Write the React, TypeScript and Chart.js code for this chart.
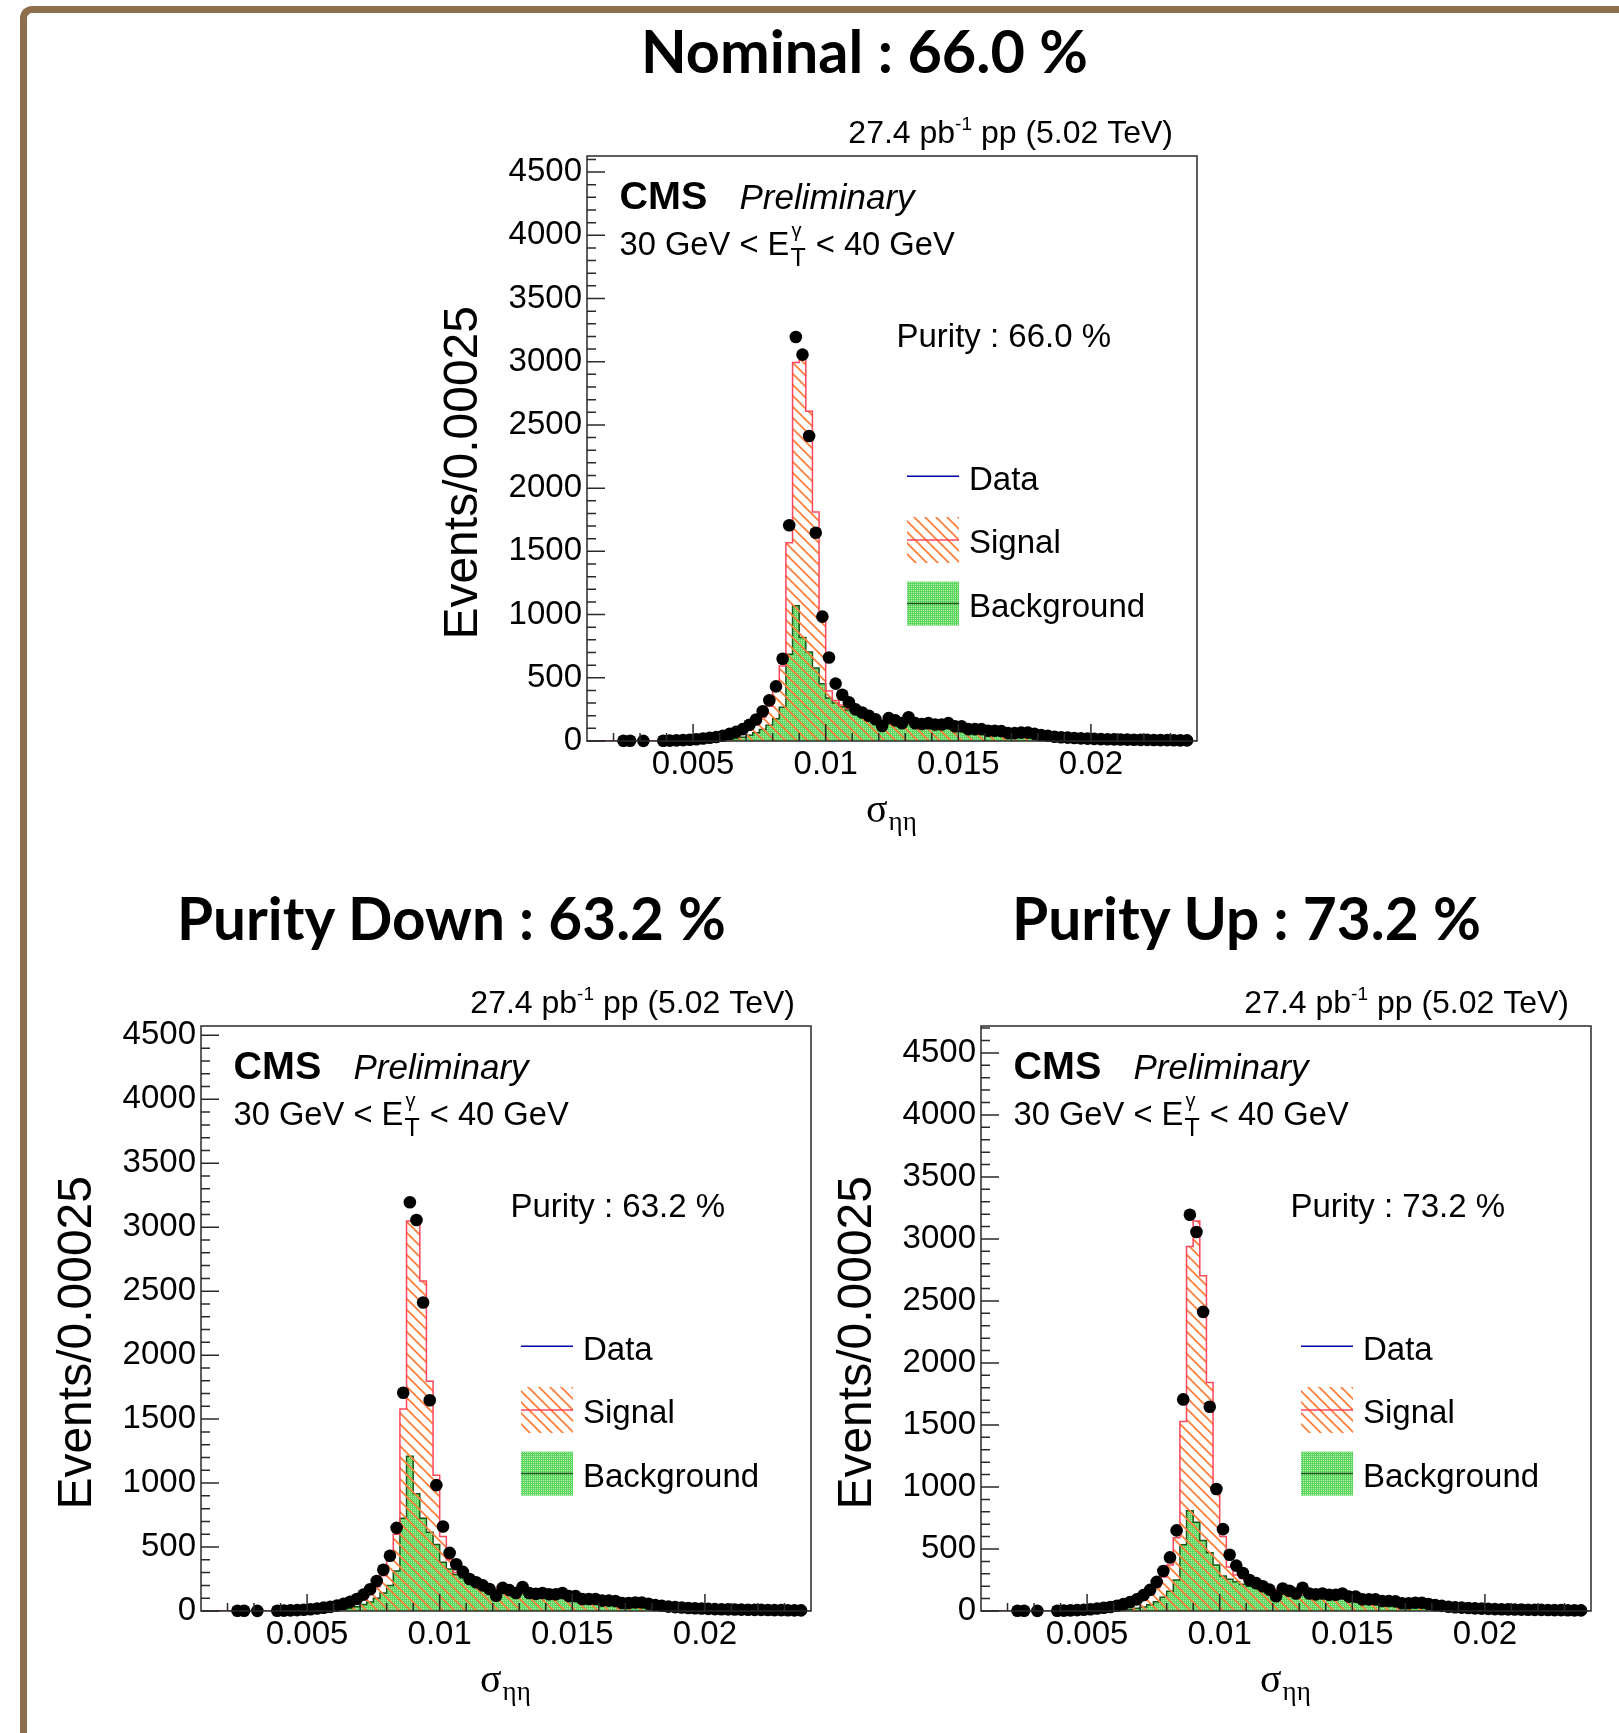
import React, { useEffect, useRef } from "react";
import { Chart, registerables } from "chart.js";

Chart.register(...registerables);

// ---------------- data ----------------
const BIN_START = 0.001;
const BIN_WIDTH = 0.00025;
const X_MIN = 0.001;
const X_MAX = 0.024;
const X_TICKS = [0.005, 0.01, 0.015, 0.02];
const X_TICK_LABELS = ["0.005", "0.01", "0.015", "0.02"];
const Y_TICKS = [0, 500, 1000, 1500, 2000, 2500, 3000, 3500, 4000, 4500];
const Y_TICK_LABELS = ["0", "500", "1000", "1500", "2000", "2500", "3000", "3500", "4000", "4500"];

const PANEL_TITLES = ["Nominal : 66.0 %", "Purity Down : 63.2 %", "Purity Up : 73.2 %"];
const PURITY_LABELS = ["Purity : 66.0 %", "Purity : 63.2 %", "Purity : 73.2 %"];
const LEGEND_LABELS = ["Data", "Signal", "Background"];

// data counts per bin (92 bins of 0.00025 from 0.001), null = empty bin
const DATA_COUNTS = [
  null, null, null, null, null,
  2, 2, null, 1, null,
  null, 2, 3, 5, 7,
  10, 14, 20, 26, 32,
  42, 56, 72, 94, 128,
  170, 235, 322, 432, 650,
  1706, 3195, 3056, 2412, 1647,
  984, 660, 454, 366, 306,
  250, 225, 200, 172, 119,
  181, 163, 141, 188, 141,
  134, 141, 131, 131, 141,
  116, 116, 94, 94, 94,
  81, 81, 78, 62, 62,
  66, 66, 56, 47, 41,
  34, 30, 27, 24, 21,
  19, 17, 15, 14, 13,
  12, 11, 10, 9, 9,
  8, 7, 7, 6, 5,
  5, null,
];

const BKG_NOMINAL = [
  0, 0, 0, 0, 0, 0, 0, 0, 0, 0, 0, 0, 0, 0, 0,
  0, 0, 2, 4, 6,
  9, 14, 20, 30, 45,
  65, 90, 125, 175, 266,
  687, 1069, 819, 703, 578,
  453, 340, 300, 270, 245,
  222, 203, 188, 173, 160,
  150, 143, 137, 132, 129,
  126, 123, 119, 116, 113,
  109, 103, 97, 91, 86,
  81, 76, 71, 65, 59,
  53, 46, 36, 22, 0,
  0, 0, 0, 0, 0, 0, 0, 0, 0, 0, 0, 0, 0, 0, 0, 0, 0, 0, 0, 0, 0, 0,
];
const SIG_NOMINAL = [
  0, 0, 0, 0, 0, 0, 0, 0, 0, 0, 0, 0, 0, 0, 0,
  0, 0, 1, 2, 4,
  7, 11, 18, 28, 43,
  65, 100, 150, 235, 328,
  882, 1925, 2212, 1906, 1234,
  547, 55, 20, 15, 12,
  11, 10, 9, 8, 7,
  7, 6, 6, 5, 5,
  5, 4, 4, 4, 3,
  3, 3, 3, 2, 2,
  2, 2, 1, 1, 1,
  1, 1, 1, 0, 0,
  0, 0, 0, 0, 0, 0, 0, 0, 0, 0, 0, 0, 0, 0, 0, 0, 0, 0, 0, 0, 0, 0,
];

const BKG_DOWN = [
  0, 0, 0, 0, 0, 0, 0, 0, 0, 0, 0, 0, 0, 0, 0,
  0, 0, 2, 4, 6,
  10, 15, 22, 33, 50,
  70, 100, 140, 200, 312,
  726, 1210, 917, 726, 615,
  519, 382, 328, 285, 258,
  232, 212, 196, 180, 166,
  156, 148, 142, 137, 133,
  130, 127, 123, 120, 116,
  112, 106, 100, 94, 88,
  83, 78, 73, 67, 61,
  55, 47, 37, 23, 0,
  0, 0, 0, 0, 0, 0, 0, 0, 0, 0, 0, 0, 0, 0, 0, 0, 0, 0, 0, 0, 0, 0,
];
const SIG_DOWN = [
  0, 0, 0, 0, 0, 0, 0, 0, 0, 0, 0, 0, 0, 0, 0,
  0, 0, 1, 2, 4,
  6, 10, 16, 25, 38,
  60, 90, 135, 210, 288,
  854, 1838, 2131, 1854, 1181,
  542, 201, 72, 15, 12,
  11, 10, 9, 8, 7,
  7, 6, 6, 5, 5,
  5, 4, 4, 4, 3,
  3, 3, 3, 2, 2,
  2, 2, 1, 1, 1,
  1, 1, 1, 0, 0,
  0, 0, 0, 0, 0, 0, 0, 0, 0, 0, 0, 0, 0, 0, 0, 0, 0, 0, 0, 0, 0, 0,
];

const BKG_UP = [
  0, 0, 0, 0, 0, 0, 0, 0, 0, 0, 0, 0, 0, 0, 0,
  0, 0, 1, 3, 5,
  7, 10, 15, 22, 33,
  50, 75, 110, 160, 250,
  535, 808, 716, 568, 470,
  371, 283, 256, 235, 215,
  200, 188, 176, 164, 153,
  145, 139, 134, 129, 126,
  123, 120, 116, 113, 110,
  106, 100, 94, 88, 83,
  78, 73, 68, 62, 57,
  51, 44, 35, 21, 0,
  0, 0, 0, 0, 0, 0, 0, 0, 0, 0, 0, 0, 0, 0, 0, 0, 0, 0, 0, 0, 0, 0,
];
const SIG_UP = [
  0, 0, 0, 0, 0, 0, 0, 0, 0, 0, 0, 0, 0, 0, 0,
  0, 0, 2, 3, 5,
  9, 15, 23, 36, 55,
  80, 115, 165, 211, 341,
  993, 2132, 2428, 2136, 1373,
  624, 318, 99, 55, 47,
  38, 30, 25, 20, 18,
  15, 12, 10, 9, 8,
  7, 6, 6, 5, 5,
  5, 4, 4, 3, 3,
  3, 2, 2, 2, 1,
  1, 1, 1, 0, 0,
  0, 0, 0, 0, 0, 0, 0, 0, 0, 0, 0, 0, 0, 0, 0, 0, 0, 0, 0, 0, 0, 0,
];

const PANEL_BKG = [BKG_NOMINAL, BKG_DOWN, BKG_UP];
const PANEL_SIG = [SIG_NOMINAL, SIG_DOWN, SIG_UP];
const PANEL_YMAX = [4627, 4573, 4717];

// ---------------- layout ----------------
const FRAME_W = 610;
const FRAME_H = 585;
const PAD_L = 160;
const PAD_T = 60;
const PAD_R = 20;
const PAD_B = 110;
const CANVAS_W = PAD_L + FRAME_W + PAD_R;
const CANVAS_H = PAD_T + FRAME_H + PAD_B;
const FRAME_POS = [
  { left: 587, top: 156 },
  { left: 201, top: 1026 },
  { left: 981, top: 1026 },
];
const LUMI_RIGHT_INSET = [24, 16, 22];
const TITLE_POS = [
  { x: 641, y: 73, w: 447 },
  { x: 177, y: 940, w: 549 },
  { x: 1012, y: 940, w: 469 },
];

const FONT = '"Liberation Sans", Arial, Helvetica, sans-serif';
const SERIF = '"Liberation Serif", "DejaVu Serif", serif';
const Y_MINOR_STEP = 100;
const X_MINOR_STEP = 0.001;

function stepPoints(vals: number[]) {
  const pts = vals.map((v, k) => ({ x: BIN_START + k * BIN_WIDTH, y: v }));
  pts.push({ x: BIN_START + vals.length * BIN_WIDTH, y: vals[vals.length - 1] });
  return pts;
}

function dataPoints() {
  const out: { x: number; y: number }[] = [];
  DATA_COUNTS.forEach((v, k) => {
    if (v !== null) out.push({ x: BIN_START + (k + 0.5) * BIN_WIDTH, y: v as number });
  });
  return out;
}

function makeHatch(ctx: CanvasRenderingContext2D) {
  const s = 11;
  const c = document.createElement("canvas");
  c.width = s;
  c.height = s;
  const g = c.getContext("2d")!;
  g.strokeStyle = "rgb(255,125,55)";
  g.lineWidth = 1.7;
  for (const o of [-s, 0, s]) {
    g.beginPath();
    g.moveTo(o - 1, -1);
    g.lineTo(o + s + 1, s + 1);
    g.stroke();
  }
  return ctx.createPattern(c, "repeat")!;
}

function makeGreen(ctx: CanvasRenderingContext2D) {
  const c = document.createElement("canvas");
  c.width = 2;
  c.height = 2;
  const g = c.getContext("2d")!;
  g.fillStyle = "rgb(92,214,92)";
  g.fillRect(0, 0, 2, 2);
  g.fillStyle = "rgb(185,240,185)";
  g.fillRect(0, 0, 1, 1);
  return ctx.createPattern(c, "repeat")!;
}

function decorPlugin(idx: number, hatch: CanvasPattern, green: CanvasPattern) {
  return {
    id: "decor" + idx,
    afterDraw(chart: any) {
      const { ctx, chartArea: a, scales } = chart;
      const xs = scales.x;
      const ys = scales.y;
      ctx.save();
      // ticks
      ctx.strokeStyle = "#2a2a2a";
      ctx.lineWidth = 1.5;
      ctx.beginPath();
      for (let i = 0; i * Y_MINOR_STEP <= PANEL_YMAX[idx]; i++) {
        const v = i * Y_MINOR_STEP;
        const y = ys.getPixelForValue(v);
        const len = i % 5 === 0 ? 18 : 9;
        ctx.moveTo(a.left, y);
        ctx.lineTo(a.left + len, y);
      }
      for (let i = 2; i * X_MINOR_STEP < X_MAX - 1e-9; i++) {
        const x = xs.getPixelForValue(i * X_MINOR_STEP);
        const len = i % 5 === 0 ? 17 : 8;
        ctx.moveTo(x, a.bottom);
        ctx.lineTo(x, a.bottom - len);
      }
      ctx.stroke();
      ctx.strokeRect(a.left, a.top, a.right - a.left, a.bottom - a.top);

      ctx.fillStyle = "#000";
      ctx.textBaseline = "alphabetic";
      ctx.textAlign = "left";

      // luminosity label
      const p1 = "27.4 pb";
      const sup = "-1";
      const p2 = " pp (5.02 TeV)";
      ctx.font = `32px ${FONT}`;
      const w1 = ctx.measureText(p1).width;
      const w2 = ctx.measureText(p2).width;
      ctx.font = `19px ${FONT}`;
      const ws = ctx.measureText(sup).width;
      let x = a.right - LUMI_RIGHT_INSET[idx] - (w1 + ws + w2);
      const yb = a.top - 13;
      ctx.font = `32px ${FONT}`;
      ctx.fillText(p1, x, yb);
      x += w1;
      ctx.font = `19px ${FONT}`;
      ctx.fillText(sup, x, yb - 13);
      x += ws;
      ctx.font = `32px ${FONT}`;
      ctx.fillText(p2, x, yb);

      // CMS Preliminary
      ctx.font = `bold 39.5px ${FONT}`;
      ctx.fillText("CMS", a.left + 32.5, a.top + 52.6);
      ctx.font = `italic 35px ${FONT}`;
      ctx.fillText("Preliminary", a.left + 152.5, a.top + 53.3);

      // ET range
      ctx.font = `32.7px ${FONT}`;
      let ex = a.left + 32.5;
      const ey = a.top + 98.5;
      const s1 = "30 GeV < E";
      ctx.fillText(s1, ex, ey);
      ex += ctx.measureText(s1).width;
      ctx.font = `25px ${FONT}`;
      const wT = ctx.measureText("T").width;
      ctx.fillText("T", ex + 1, ey + 11);
      ctx.font = `20px ${FONT}`;
      const wg = ctx.measureText("γ").width;
      ctx.fillText("γ", ex + 2, ey - 18);
      ex += Math.max(wT, wg) + 2;
      ctx.font = `32.7px ${FONT}`;
      ctx.fillText(" < 40 GeV", ex, ey);

      // purity
      ctx.font = `33px ${FONT}`;
      ctx.fillText(PURITY_LABELS[idx], a.left + 309.5, a.top + 190.5);

      // legend
      const lx0 = a.left + 320;
      const lx1 = a.left + 372;
      const rows = [a.top + 320.3, a.top + 384, a.top + 447.6];
      // Data
      ctx.strokeStyle = "rgb(0,0,170)";
      ctx.lineWidth = 1.5;
      ctx.beginPath();
      ctx.moveTo(lx0, rows[0]);
      ctx.lineTo(lx1, rows[0]);
      ctx.stroke();
      // Signal
      ctx.fillStyle = hatch;
      ctx.fillRect(lx0, rows[1] - 23, lx1 - lx0, 46);
      ctx.strokeStyle = "rgb(255,70,90)";
      ctx.beginPath();
      ctx.moveTo(lx0, rows[1]);
      ctx.lineTo(lx1, rows[1]);
      ctx.stroke();
      // Background
      ctx.fillStyle = green;
      ctx.fillRect(lx0, rows[2] - 22, lx1 - lx0, 44);
      ctx.strokeStyle = "rgb(25,85,25)";
      ctx.beginPath();
      ctx.moveTo(lx0, rows[2]);
      ctx.lineTo(lx1, rows[2]);
      ctx.stroke();
      ctx.fillStyle = "#000";
      ctx.font = `33px ${FONT}`;
      LEGEND_LABELS.forEach((t, i) => ctx.fillText(t, a.left + 382, rows[i] + 13.3));

      // y title
      ctx.save();
      ctx.translate(a.left - 110, a.top + 150);
      ctx.rotate(-Math.PI / 2);
      ctx.textAlign = "right";
      ctx.font = `48px ${FONT}`;
      ctx.fillText("Events/0.00025", 0, 0);
      ctx.restore();

      // x title
      ctx.font = `40px ${SERIF}`;
      const sx = a.left + 279;
      const sy = a.bottom + 81;
      ctx.fillText("σ", sx, sy);
      const swd = ctx.measureText("σ").width;
      ctx.font = `27px ${SERIF}`;
      ctx.fillText("ηη", sx + swd + 1, sy + 8);

      ctx.restore();
    },
  };
}

function Panel({ idx }: { idx: number }) {
  const ref = useRef<HTMLCanvasElement>(null);
  useEffect(() => {
    const canvas = ref.current!;
    const ctx = canvas.getContext("2d")!;
    const hatch = makeHatch(ctx);
    const green = makeGreen(ctx);
    const bkg = PANEL_BKG[idx];
    const sig = PANEL_SIG[idx];
    const total = bkg.map((b, k) => b + sig[k]);
    const chart = new Chart(canvas, {
      type: "line",
      data: {
        datasets: [
          {
            label: "Data",
            data: dataPoints(),
            showLine: false,
            pointRadius: 6.3,
            pointBackgroundColor: "#000",
            pointBorderColor: "#000",
            pointBorderWidth: 0,
            order: 0,
            clip: false as any,
          },
          {
            label: "Signal",
            data: stepPoints(total),
            stepped: "before",
            fill: "origin",
            backgroundColor: hatch as any,
            borderColor: "rgb(255,70,90)",
            borderWidth: 1.5,
            pointRadius: 0,
            order: 1,
          },
          {
            label: "Background",
            data: stepPoints(bkg),
            stepped: "before",
            fill: "origin",
            backgroundColor: green as any,
            borderColor: "rgb(25,85,25)",
            borderWidth: 1.5,
            pointRadius: 0,
            order: 2,
          },
        ] as any,
      },
      options: {
        animation: false,
        responsive: false,
        devicePixelRatio: 1,
        layout: { padding: { top: PAD_T, right: PAD_R, left: 0, bottom: 0 } },
        plugins: {
          legend: { display: false },
          tooltip: { enabled: false },
          title: { display: false },
        },
        scales: {
          x: {
            type: "linear",
            min: X_MIN,
            max: X_MAX,
            grid: { display: false, drawTicks: false },
            border: { display: false },
            afterBuildTicks: (s: any) => {
              s.ticks = X_TICKS.map((v) => ({ value: v }));
            },
            afterFit: (s: any) => {
              s.height = PAD_B;
            },
            ticks: {
              autoSkip: false,
              maxRotation: 0,
              padding: 4,
              color: "#000",
              font: { family: FONT, size: 33 },
              callback: (_v: any, i: number) => X_TICK_LABELS[i],
            },
          },
          y: {
            type: "linear",
            min: 0,
            max: PANEL_YMAX[idx],
            grid: { display: false, drawTicks: false },
            border: { display: false },
            afterBuildTicks: (s: any) => {
              s.ticks = Y_TICKS.map((v) => ({ value: v }));
            },
            afterFit: (s: any) => {
              s.width = PAD_L;
            },
            ticks: {
              autoSkip: false,
              padding: 5,
              color: "#000",
              font: { family: FONT, size: 33 },
              callback: (_v: any, i: number) => Y_TICK_LABELS[i],
            },
          },
        },
      } as any,
      plugins: [decorPlugin(idx, hatch, green)],
    });
    return () => chart.destroy();
  }, [idx]);
  const pos = FRAME_POS[idx];
  return (
    <canvas
      ref={ref}
      width={CANVAS_W}
      height={CANVAS_H}
      style={{
        position: "absolute",
        left: pos.left - PAD_L,
        top: pos.top - PAD_T,
        width: CANVAS_W,
        height: CANVAS_H,
      }}
    />
  );
}

export default function App() {
  return (
    <div
      style={{
        position: "absolute",
        left: 0,
        top: 0,
        width: 1619,
        height: 1733,
        background: "#fff",
        overflow: "hidden",
      }}
    >
      <div
        style={{
          position: "absolute",
          left: 20,
          top: 6,
          width: 1700,
          height: 1800,
          borderTop: "7px solid #8d6e4d",
          borderLeft: "7px solid #8d6e4d",
          borderTopLeftRadius: 12,
        }}
      />
      <svg
        width={1619}
        height={1733}
        style={{ position: "absolute", left: 0, top: 0 }}
      >
        {PANEL_TITLES.map((t, i) => (
          <text
            key={i}
            x={TITLE_POS[i].x}
            y={TITLE_POS[i].y}
            textLength={TITLE_POS[i].w}
            lengthAdjust="spacingAndGlyphs"
            style={{ fontFamily: "Lato, 'Open Sans', sans-serif", fontWeight: 700, fontSize: 60 }}
            fill="#000"
          >
            {t}
          </text>
        ))}
      </svg>
      {FRAME_POS.map((_, i) => (
        <Panel key={i} idx={i} />
      ))}
    </div>
  );
}
